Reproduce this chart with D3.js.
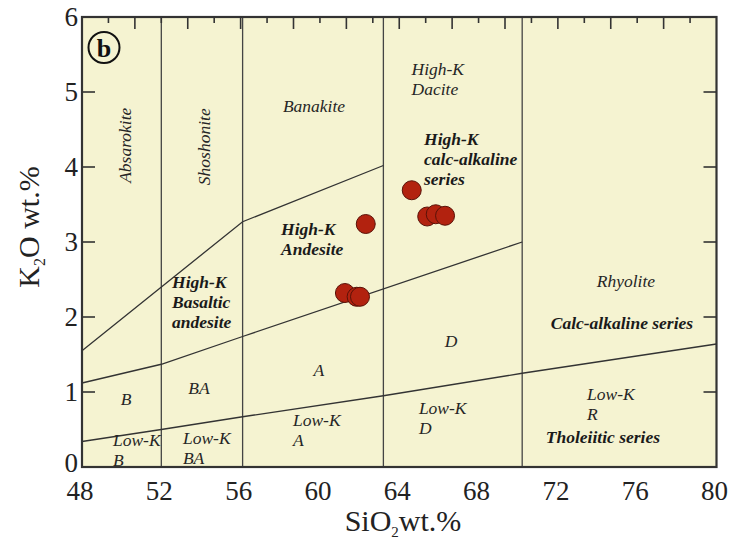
<!DOCTYPE html>
<html>
<head>
<meta charset="utf-8">
<script src="https://cdn.jsdelivr.net/npm/d3@7"></script>
<style>
  body { margin: 0; background: #fff; }
  svg { display: block; font-family: "Liberation Serif", "DejaVu Serif", serif; }
  .region { font-style: italic; font-size: 17.5px; fill: #262626; }
  .region--bold { font-weight: bold; fill: #1a1a1a; }
  .tick-label { font-size: 27px; fill: #222; }
  .axis-title { font-size: 30px; fill: #222; }
</style>
</head>
<body>
<div id="chart"></div>
<script>
const WIDTH = 735;
const HEIGHT = 540;
const FRAME = { left: 82, right: 716.5, top: 17, bottom: 467 };

const X_DOMAIN = [48, 80];
const Y_DOMAIN = [0, 6];
const X_TICKS = [48, 52, 56, 60, 64, 68, 72, 76, 80];
const Y_TICKS = [0, 1, 2, 3, 4, 5, 6];
const TOP_TICK_STEP = 4 / 3;

// Vertical field boundaries (SiO2)
const DIVIDERS = [52, 56.1, 63.2, 70.2];

// Series boundary polylines [SiO2, K2O]
const SHOSHONITE_LINE = [[48, 1.55], [56.1, 3.27], [63.2, 4.02]];
const HIGH_K_LINE = [[48, 1.12], [52, 1.37], [56.1, 1.74], [70.2, 3.0]];
const LOW_K_LINE = [[48, 0.34], [52, 0.5], [56.1, 0.67], [63.2, 0.95], [70.2, 1.25], [80, 1.64]];

// Samples
const SAMPLE_SIO2 = [64.63, 62.31, 65.41, 65.84, 66.31, 61.26, 61.85, 62.02];
const SAMPLE_K2O = [3.69, 3.24, 3.34, 3.37, 3.35, 2.32, 2.27, 2.27];

// Field labels: text lines, anchor point in data units
const LABELS = [
  { lines: ["Absarokite"], x: 50.22, y: 4.29, rotate: true },
  { lines: ["Shoshonite"], x: 54.2, y: 4.27, rotate: true },
  { lines: ["Banakite"], x: 59.7, y: 4.73, anchor: "middle" },
  { lines: ["High-K", "Dacite"], x: 64.62, y: 5.23 },
  { lines: ["High-K", "calc-alkaline", "series"], x: 65.25, y: 4.29, bold: true },
  { lines: ["High-K", "Andesite"], x: 58.04, y: 3.09, bold: true },
  { lines: ["High-K", "Basaltic", "andesite"], x: 52.54, y: 2.39, bold: true },
  { lines: ["B"], x: 50.22, y: 0.83, anchor: "middle" },
  { lines: ["BA"], x: 53.9, y: 0.97, anchor: "middle" },
  { lines: ["A"], x: 59.95, y: 1.21, anchor: "middle" },
  { lines: ["Low-K", "B"], x: 49.56, y: 0.28 },
  { lines: ["Low-K", "BA"], x: 53.09, y: 0.31 },
  { lines: ["Low-K", "A"], x: 58.64, y: 0.55 },
  { lines: ["D"], x: 66.61, y: 1.6, anchor: "middle" },
  { lines: ["Low-K", "D"], x: 64.99, y: 0.71 },
  { lines: ["Rhyolite"], x: 75.43, y: 2.4, anchor: "middle" },
  { lines: ["Calc-alkaline series"], x: 75.23, y: 1.84, anchor: "middle", bold: true },
  { lines: ["Low-K", "R"], x: 73.47, y: 0.89 },
  { lines: ["Tholeiitic series"], x: 74.27, y: 0.32, anchor: "middle", bold: true },
];

const svg = d3.select("#chart")
  .append("svg")
  .attr("width", WIDTH)
  .attr("height", HEIGHT);

const x = d3.scaleLinear().domain(X_DOMAIN).range([FRAME.left, FRAME.right]);
const y = d3.scaleLinear().domain(Y_DOMAIN).range([FRAME.bottom, FRAME.top]);

// Plot background
svg.append("rect")
  .attr("x", x(48))
  .attr("y", y(6))
  .attr("width", x(80) - x(48))
  .attr("height", y(0) - y(6))
  .attr("fill", "#f5f3d1");

const line = d3.line().x((d) => x(d[0])).y((d) => y(d[1]));

// Field boundaries
svg.append("g")
  .selectAll("line")
  .data(DIVIDERS)
  .join("line")
  .attr("x1", (d) => x(d))
  .attr("x2", (d) => x(d))
  .attr("y1", y(0))
  .attr("y2", y(6))
  .attr("stroke", "#444")
  .attr("stroke-width", 1.3);

svg.append("g")
  .selectAll("path")
  .data([SHOSHONITE_LINE, HIGH_K_LINE, LOW_K_LINE])
  .join("path")
  .attr("d", line)
  .attr("fill", "none")
  .attr("stroke", "#333")
  .attr("stroke-width", 1.3);

// Inward ticks: left & right at integer K2O, top at SiO2 steps
const sideTicks = Y_TICKS.slice(1, -1);
const tickG = svg.append("g").attr("stroke", "#333").attr("stroke-width", 1.6);
tickG.selectAll(".tl")
  .data(sideTicks)
  .join("line")
  .attr("x1", x(48)).attr("x2", x(48) + 13)
  .attr("y1", (d) => y(d)).attr("y2", (d) => y(d));
tickG.selectAll(".tr")
  .data(sideTicks)
  .join("line")
  .attr("x1", x(80)).attr("x2", x(80) - 13)
  .attr("y1", (d) => y(d)).attr("y2", (d) => y(d));

const topTicks = d3.range(1, 24).map((k) => ({ k, v: 48 + k * TOP_TICK_STEP }));
tickG.selectAll(".tt")
  .data(topTicks)
  .join("line")
  .attr("x1", (d) => x(d.v)).attr("x2", (d) => x(d.v))
  .attr("y1", y(6))
  .attr("y2", (d) => y(6) + (d.k % 2 === 0 ? 12 : 6));

// Frame
svg.append("rect")
  .attr("x", x(48))
  .attr("y", y(6))
  .attr("width", x(80) - x(48))
  .attr("height", y(0) - y(6))
  .attr("fill", "none")
  .attr("stroke", "#333")
  .attr("stroke-width", 2.2);

// Tick labels
svg.append("g")
  .selectAll("text")
  .data(X_TICKS)
  .join("text")
  .attr("class", "tick-label")
  .attr("x", (d) => x(d) - 2)
  .attr("y", y(0) + 33)
  .attr("text-anchor", "middle")
  .text((d) => d);

svg.append("g")
  .selectAll("text")
  .data(Y_TICKS)
  .join("text")
  .attr("class", "tick-label")
  .attr("x", x(48) - 4)
  .attr("y", (d) => y(d) + (d === 0 ? 5 : 9))
  .attr("text-anchor", "end")
  .text((d) => d);

// Axis titles
const xTitle = svg.append("text")
  .attr("class", "axis-title")
  .attr("x", 403)
  .attr("y", 531)
  .attr("text-anchor", "middle");
xTitle.append("tspan").text("SiO");
xTitle.append("tspan").attr("font-size", 15).attr("dy", 6).text("2");
xTitle.append("tspan").attr("dy", -6).text("wt.%");

const yTitle = svg.append("text")
  .attr("class", "axis-title")
  .attr("transform", "translate(39,227) rotate(-90)")
  .attr("text-anchor", "middle");
yTitle.append("tspan").text("K");
yTitle.append("tspan").attr("font-size", 16).attr("dy", 6).text("2");
yTitle.append("tspan").attr("dy", -6).text("O wt.%");

// Field labels
const labelG = svg.append("g");
LABELS.forEach((lab) => {
  const t = labelG.append("text")
    .attr("class", lab.bold ? "region region--bold" : "region")
    .attr("text-anchor", lab.rotate ? "middle" : lab.anchor || "start");
  if (lab.rotate) {
    t.attr("transform", `translate(${x(lab.x) + 5},${y(lab.y)}) rotate(-90)`).text(lab.lines[0]);
    return;
  }
  t.attr("x", x(lab.x)).attr("y", y(lab.y));
  lab.lines.forEach((txt, i) => {
    t.append("tspan")
      .attr("x", x(lab.x))
      .attr("dy", i === 0 ? 0 : 20)
      .text(txt);
  });
});

// Panel letter
svg.append("circle")
  .attr("cx", 104)
  .attr("cy", 47.5)
  .attr("r", 15.5)
  .attr("fill", "none")
  .attr("stroke", "#111")
  .attr("stroke-width", 2);
svg.append("text")
  .attr("x", 104)
  .attr("y", 56.5)
  .attr("text-anchor", "middle")
  .attr("font-size", 26)
  .attr("font-weight", "bold")
  .attr("fill", "#111")
  .text("b");

// Samples
svg.append("g")
  .selectAll("circle")
  .data(SAMPLE_SIO2.map((s, i) => [s, SAMPLE_K2O[i]]))
  .join("circle")
  .attr("cx", (d) => x(d[0]))
  .attr("cy", (d) => y(d[1]))
  .attr("r", 9.5)
  .attr("fill", "#b2220f")
  .attr("stroke", "#5a1208")
  .attr("stroke-width", 1);
</script>
</body>
</html>
